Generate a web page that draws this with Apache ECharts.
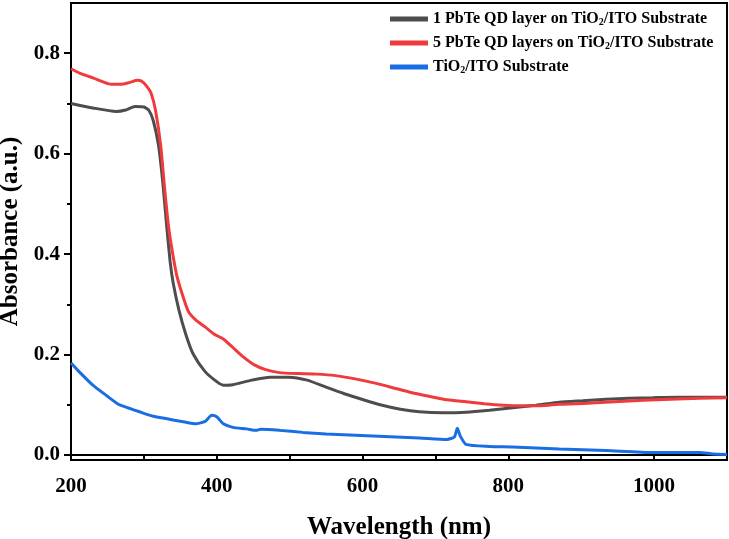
<!DOCTYPE html>
<html>
<head>
<meta charset="utf-8">
<script src="https://cdn.jsdelivr.net/npm/echarts@6/dist/echarts.min.js"></script>
<style>
  html, body { margin: 0; padding: 0; background: #fff; }
  #chart { width: 729px; height: 539px; }
</style>
</head>
<body>
<div id="chart"></div>
<script>
// 读图得到的数据 (wavelength nm / absorbance)
const seriesNames = [
  '1 PbTe QD layer on TiO2/ITO Substrate',
  '5 PbTe QD layers on TiO2/ITO Substrate',
  'TiO2/ITO Substrate'
]
const seriesColors = ['#4d4d4d', '#f03a3e', '#1a6ee3']

const oneLayerX = [200, 230, 262, 275, 288, 300, 307, 313, 320, 326, 331, 336, 340, 348, 358, 368, 384, 400, 409, 422, 448, 473, 499, 524, 550, 575, 601, 627, 652, 678, 710, 742, 774, 806, 838, 870, 902, 934, 966, 998, 1030, 1062, 1100]
const oneLayerY = [0.700, 0.691, 0.684, 0.687, 0.694, 0.693, 0.686, 0.665, 0.617, 0.542, 0.460, 0.385, 0.344, 0.289, 0.238, 0.200, 0.166, 0.146, 0.139, 0.140, 0.149, 0.155, 0.155, 0.149, 0.135, 0.122, 0.110, 0.099, 0.091, 0.086, 0.084, 0.085, 0.089, 0.094, 0.099, 0.105, 0.108, 0.111, 0.113, 0.114, 0.115, 0.115, 0.115]

const fiveLayerX = [200, 211, 230, 256, 268, 281, 291, 297, 304, 310, 316, 323, 329, 334, 339, 345, 352, 361, 371, 384, 396, 409, 422, 435, 451, 467, 486, 512, 537, 563, 588, 614, 639, 665, 691, 716, 742, 767, 793, 819, 844, 870, 908, 946, 985, 1023, 1062, 1100]
const fiveLayerY = [0.769, 0.761, 0.751, 0.738, 0.738, 0.742, 0.746, 0.744, 0.734, 0.720, 0.686, 0.617, 0.522, 0.453, 0.405, 0.358, 0.323, 0.286, 0.269, 0.255, 0.241, 0.231, 0.214, 0.197, 0.180, 0.170, 0.164, 0.162, 0.161, 0.158, 0.152, 0.144, 0.135, 0.125, 0.117, 0.110, 0.106, 0.102, 0.099, 0.098, 0.098, 0.101, 0.103, 0.106, 0.109, 0.111, 0.113, 0.114]

const substrateX = [200, 211, 230, 249, 265, 278, 294, 313, 332, 342, 358, 371, 384, 393, 400, 409, 422, 441, 454, 460, 486, 518, 550, 614, 678, 716, 726, 730, 734, 742, 774, 806, 870, 934, 998, 1062, 1081, 1100]
const substrateY = [0.183, 0.166, 0.139, 0.118, 0.101, 0.094, 0.086, 0.077, 0.072, 0.069, 0.065, 0.062, 0.067, 0.079, 0.076, 0.062, 0.055, 0.052, 0.049, 0.051, 0.049, 0.045, 0.042, 0.038, 0.034, 0.031, 0.036, 0.053, 0.038, 0.021, 0.017, 0.016, 0.012, 0.009, 0.005, 0.005, 0.002, 0.001]

const xLabelValues = [200, 400, 600, 800, 1000]
const xMinorValues = [300, 500, 700, 900, 1100]
const yLabelValues = [0, 0.2, 0.4, 0.6, 0.8]
const yMinorValues = [0.1, 0.3, 0.5, 0.7]

const font = '"Liberation Serif", "Times New Roman", serif'

const pairs = (xs, ys) => xs.map((x, i) => [x, ys[i]])
const allX = [oneLayerX, fiveLayerX, substrateX]
const allY = [oneLayerY, fiveLayerY, substrateY]

const myChart = echarts.init(document.getElementById('chart'))

const tickStyle = { color: '#000', width: 2 }
const labelStyle = { fontFamily: font, fontWeight: 'bold', fontSize: 21, color: '#000' }
const nameStyle = { fontFamily: font, fontWeight: 'bold', fontSize: 25, color: '#000' }

const option = {
  backgroundColor: '#fff',
  animation: false,
  grid: {
    left: 71, right: 2, top: 3, bottom: 79,
    outerBoundsMode: 'none',
    containLabel: false,
    show: true, borderColor: '#000', borderWidth: 2
  },
  legend: {
    orient: 'vertical',
    left: 385, top: 5,
    itemWidth: 38, itemHeight: 5, itemGap: 6,
    icon: 'rect',
    data: seriesNames,
    formatter: name => name.replace('TiO2', 'TiO{sub|2}'),
    textStyle: {
      fontFamily: font, fontWeight: 'bold', fontSize: 16, color: '#000', lineHeight: 18,
      rich: {
        sub: { fontFamily: font, fontWeight: 'bold', fontSize: 10, padding: [7, 0, 0, 0] }
      }
    }
  },
  xAxis: [
    {
      type: 'value',
      min: 200, max: 1100,
      name: 'Wavelength (nm)',
      nameLocation: 'middle', nameGap: 55,
      nameTextStyle: nameStyle,
      axisLine: { lineStyle: { color: '#000', width: 2 } },
      axisTick: { customValues: xLabelValues, length: 6, lineStyle: tickStyle },
      splitLine: { show: false },
      axisLabel: Object.assign({ customValues: xLabelValues, margin: 16, formatter: v => String(v) }, labelStyle)
    },
    {
      type: 'value',
      min: 200, max: 1100,
      position: 'bottom',
      axisLine: { show: false },
      axisTick: { customValues: xMinorValues, length: 4, lineStyle: tickStyle },
      axisLabel: { show: false, customValues: xMinorValues },
      splitLine: { show: false }
    }
  ],
  yAxis: [
    {
      type: 'value',
      min: -0.01, max: 0.9,
      position: 'left',
      name: 'Absorbance (a.u.)',
      nameLocation: 'middle', nameGap: 45,
      nameTextStyle: nameStyle,
      axisLine: { show: true, lineStyle: { color: '#000', width: 2 } },
      axisTick: { show: true, customValues: yLabelValues, length: 7, lineStyle: tickStyle },
      splitLine: { show: false },
      axisLabel: Object.assign({ customValues: yLabelValues, margin: 11, formatter: v => v.toFixed(1) }, labelStyle)
    },
    {
      type: 'value',
      min: -0.01, max: 0.9,
      position: 'left',
      axisLine: { show: false },
      axisTick: { show: true, customValues: yMinorValues, length: 4, lineStyle: tickStyle },
      axisLabel: { show: false, customValues: yMinorValues },
      splitLine: { show: false }
    }
  ],
  series: seriesNames.map((name, i) => ({
    name: name,
    type: 'line',
    xAxisIndex: 0,
    yAxisIndex: 0,
    showSymbol: false,
    smooth: 0.2,
    color: seriesColors[i],
    lineStyle: { width: 3, color: seriesColors[i] },
    data: pairs(allX[i], allY[i])
  }))
}

myChart.setOption(option)
</script>
</body>
</html>
